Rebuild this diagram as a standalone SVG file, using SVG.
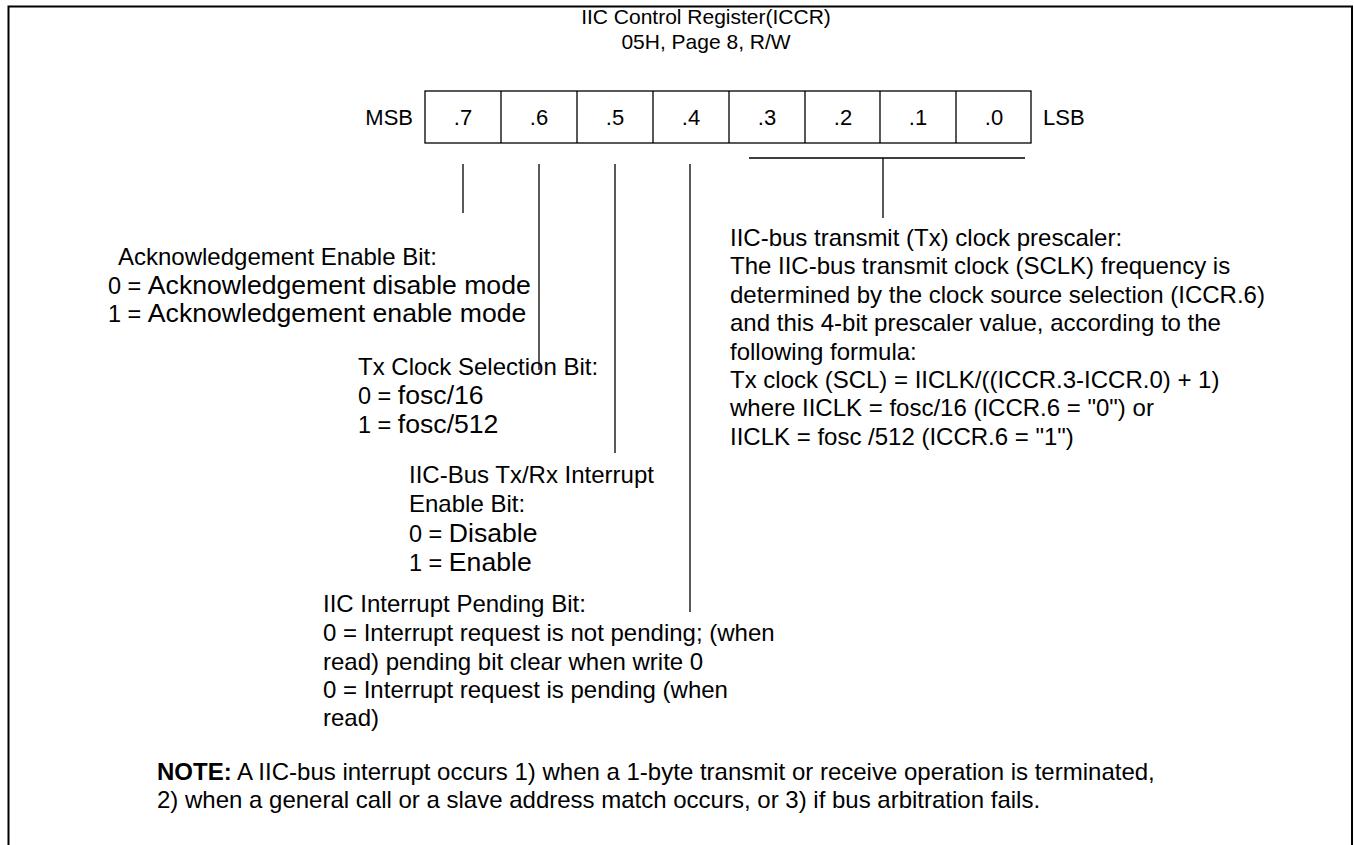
<svg xmlns="http://www.w3.org/2000/svg" width="1354" height="845" viewBox="0 0 1354 845">
<style>
text{font-family:"Liberation Sans",Arial,sans-serif;fill:#000}
.t{font-size:21px}
.r{font-size:22px}
.b{font-size:24px}
.s{font-size:23.5px}
.bg{font-size:26.6px}
.c{font-size:22px;text-anchor:middle}
.ln{stroke:#000;stroke-width:1.3;fill:none}
</style>
<rect width="1354" height="845" fill="#fff"/>
<path d="M8.5,845 V6.5 H1352 V845" fill="none" stroke="#000" stroke-width="2"/>
<g id="title">
<text class="t" x="706" y="24" text-anchor="middle">IIC Control Register(ICCR)</text>
<text class="t" x="706" y="49" text-anchor="middle">05H, Page 8, R/W</text>
</g>
<g id="register">
<text class="r" x="413" y="125" text-anchor="end">MSB</text>
<rect x="425" y="91" width="606" height="52" class="ln"/>
<path class="ln" d="M501,91V143M577,91V143M653,91V143M729,91V143M805,91V143M880,91V143M956,91V143"/>
<text class="c" x="463" y="125">.7</text>
<text class="c" x="539" y="125">.6</text>
<text class="c" x="615" y="125">.5</text>
<text class="c" x="691" y="125">.4</text>
<text class="c" x="767" y="125">.3</text>
<text class="c" x="843" y="125">.2</text>
<text class="c" x="918" y="125">.1</text>
<text class="c" x="994" y="125">.0</text>
<text class="r" x="1043" y="125">LSB</text>
</g>
<g id="connectors">
<path class="ln" d="M463,164V213"/>
<path class="ln" d="M539,164V370"/>
<path class="ln" d="M615,164V453"/>
<path class="ln" d="M690,164V612"/>
<path class="ln" d="M749,158H1025M883,158V218"/>
</g>
<g id="bit7">
<text class="b" x="118" y="265">Acknowledgement Enable Bit:</text>
<text x="108" y="294"><tspan class="s">0 = </tspan><tspan class="bg">Acknowledgement disable mode</tspan></text>
<text x="108" y="322"><tspan class="s">1 = </tspan><tspan class="bg">Acknowledgement enable mode</tspan></text>
</g>
<g id="bit6">
<text class="b" x="358" y="375">Tx Clock Selection Bit:</text>
<text x="358" y="404"><tspan class="s">0 = </tspan><tspan class="bg">fosc/16</tspan></text>
<text x="358" y="433"><tspan class="s">1 = </tspan><tspan class="bg">fosc/512</tspan></text>
</g>
<g id="bit5">
<text class="b" x="409" y="483">IIC-Bus Tx/Rx Interrupt</text>
<text class="b" x="409" y="512">Enable Bit:</text>
<text x="409" y="542"><tspan class="s">0 = </tspan><tspan class="bg">Disable</tspan></text>
<text x="409" y="571"><tspan class="s">1 = </tspan><tspan class="bg">Enable</tspan></text>
</g>
<g id="bit4">
<text class="b" x="323" y="612">IIC Interrupt Pending Bit:</text>
<text class="b" x="323" y="641">0 = Interrupt request is not pending; (when</text>
<text class="b" x="323" y="670">read) pending bit clear when write 0</text>
<text class="b" x="323" y="698">0 = Interrupt request is pending (when</text>
<text class="b" x="323" y="726">read)</text>
</g>
<g id="bits3to0">
<text class="b" x="730" y="246">IIC-bus transmit (Tx) clock prescaler:</text>
<text class="b" x="730" y="274.4">The IIC-bus transmit clock (SCLK) frequency is</text>
<text class="b" x="730" y="302.8">determined by the clock source selection (ICCR.6)</text>
<text class="b" x="730" y="331.2">and this 4-bit prescaler value, according to the</text>
<text class="b" x="730" y="359.6">following formula:</text>
<text class="b" x="730" y="388">Tx clock (SCL) = IICLK/((ICCR.3-ICCR.0) + 1)</text>
<text class="b" x="730" y="416.4">where IICLK = fosc/16 (ICCR.6 = "0") or</text>
<text class="b" x="730" y="444.8">IICLK = fosc /512 (ICCR.6 = "1")</text>
</g>
<g id="note">
<text class="b" x="157" y="780"><tspan font-weight="bold">NOTE:</tspan> A IIC-bus interrupt occurs 1) when a 1-byte transmit or receive operation is terminated,</text>
<text class="b" x="157" y="808">2) when a general call or a slave address match occurs, or 3) if bus arbitration fails.</text>
</g>
</svg>
